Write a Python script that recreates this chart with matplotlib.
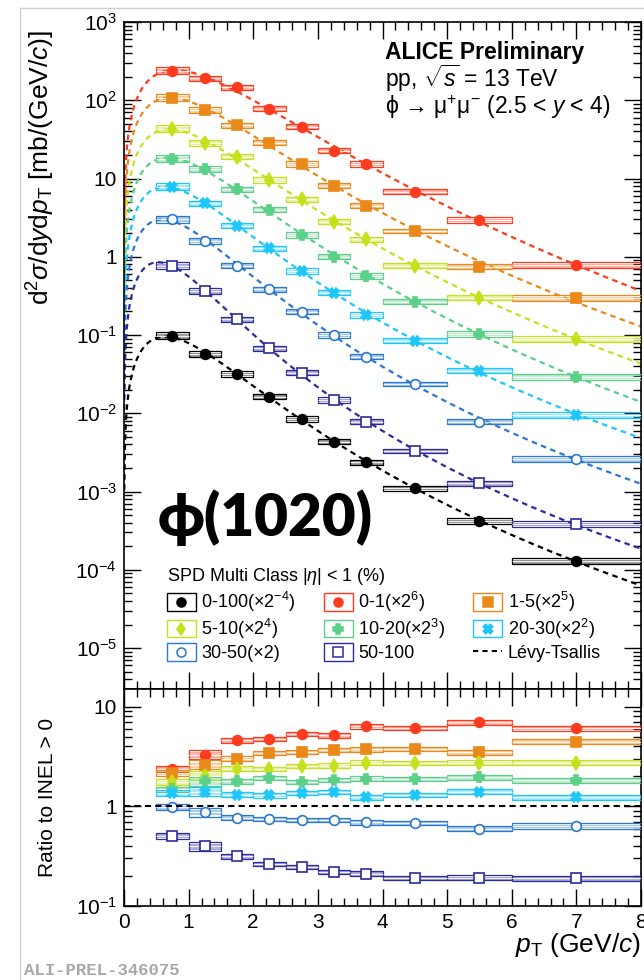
import numpy as np
import matplotlib
matplotlib.use("Agg")
import matplotlib.pyplot as plt
from matplotlib.patches import Rectangle
from matplotlib.lines import Line2D
from matplotlib.legend_handler import HandlerBase
from matplotlib.ticker import FixedLocator, LogLocator, MultipleLocator, NullFormatter, FuncFormatter

plt.rcParams["font.family"] = ["Liberation Sans", "DejaVu Sans"]
plt.rcParams["mathtext.fontset"] = "custom"
plt.rcParams["mathtext.rm"] = "Liberation Sans"
plt.rcParams["mathtext.it"] = "Liberation Sans:italic"
plt.rcParams["mathtext.bf"] = "Liberation Sans:bold"

# pT binning (GeV/c)
pt_edges = [0.5, 1.0, 1.5, 2.0, 2.5, 3.0, 3.5, 4.0, 5.0, 6.0, 8.0]

classes = ["0-100", "0-1", "1-5", "5-10", "10-20", "20-30", "30-50", "50-100"]
scale_labels = ["(×2$^{-4}$)", "(×2$^{6}$)", "(×2$^{5}$)", "(×2$^{4}$)",
                "(×2$^{3}$)", "(×2$^{2}$)", "(×2)", ""]
colors = ["#000000", "#ff3b1f", "#e8891a", "#c6e01e", "#5ccf88", "#1ec6fa", "#2a78d0", "#2b2b9c"]
markers = ["o", "o", "s", "d", "P", "X", "o", "s"]
filled = [True, True, True, True, True, True, False, False]

# d2sigma/dydpT (scaled as drawn), mb/(GeV/c)
spec_0_100 = [0.098, 0.057, 0.0318, 0.0163, 0.00845, 0.00433, 0.00236, 0.0011, 0.00042, 0.000129]
spec_0_1 = [237, 190, 146, 78, 46, 22.7, 15.3, 6.8, 2.95, 0.785]
spec_1_5 = [108, 75, 48, 28.7, 15.3, 8.1, 4.5, 2.13, 0.746, 0.294]
spec_5_10 = [43, 28.7, 19, 9.6, 5.4, 2.8, 1.67, 0.77, 0.30, 0.088]
spec_10_20 = [17.9, 13.2, 7.3, 4.0, 1.9, 1.0, 0.57, 0.267, 0.103, 0.0293]
spec_20_30 = [7.85, 4.8, 2.5, 1.28, 0.66, 0.347, 0.18, 0.085, 0.035, 0.0095]
spec_30_50 = [3.03, 1.6, 0.77, 0.384, 0.199, 0.1, 0.053, 0.0237, 0.0078, 0.00258]
spec_50_100 = [0.77, 0.365, 0.158, 0.0675, 0.033, 0.0148, 0.0078, 0.0033, 0.00127, 0.000385]
spectra = [spec_0_100, spec_0_1, spec_1_5, spec_5_10, spec_10_20, spec_20_30, spec_30_50, spec_50_100]

# ratio to INEL > 0 (unscaled)
ratio_0_1 = [2.38, 3.31, 4.6, 4.79, 5.37, 5.16, 6.41, 6.12, 6.97, 6.12]
ratio_1_5 = [2.17, 2.61, 3.0, 3.44, 3.52, 3.69, 3.74, 3.80, 3.49, 4.47]
ratio_5_10 = [1.75, 2.04, 2.40, 2.38, 2.53, 2.57, 2.73, 2.75, 2.73, 2.75]
ratio_10_20 = [1.48, 1.79, 1.79, 1.94, 1.75, 1.83, 1.89, 1.89, 1.96, 1.83]
ratio_20_30 = [1.36, 1.41, 1.31, 1.29, 1.36, 1.40, 1.23, 1.31, 1.41, 1.23]
ratio_30_50 = [0.985, 0.877, 0.77, 0.747, 0.736, 0.736, 0.69, 0.68, 0.598, 0.636]
ratio_50_100 = [0.505, 0.398, 0.316, 0.263, 0.247, 0.219, 0.211, 0.192, 0.192, 0.189]
ratios = [None, ratio_0_1, ratio_1_5, ratio_5_10, ratio_10_20, ratio_20_30, ratio_30_50, ratio_50_100]

# relative systematic uncertainties per bin
sys_spec = [0.11, 0.09, 0.08, 0.08, 0.08, 0.08, 0.08, 0.07, 0.08, 0.09]
sys_ratio = [0.07, 0.11, 0.06, 0.05, 0.05, 0.05, 0.06, 0.05, 0.06, 0.06]

PHI_MASS = 1.019


def levy(pt, n, T):
    mt = np.sqrt(pt ** 2 + PHI_MASS ** 2)
    return pt * (1 + (mt - PHI_MASS) / (n * T)) ** (-n)


def fit_levy(x, y):
    # small grid fit in log space, normalisation solved analytically
    T = np.linspace(0.08, 0.6, 131)[:, None, None]
    n = np.linspace(2.5, 40, 151)[None, :, None]
    ly = np.log(y)[None, None, :]
    ls = np.log(levy(x[None, None, :], n, T))
    lc = (ly - ls).mean(axis=2, keepdims=True)
    chi = ((ly - ls - lc) ** 2).sum(axis=2)
    i, j = np.unravel_index(np.argmin(chi), chi.shape)
    return np.exp(lc[i, j, 0]), n[0, j, 0], T[i, 0, 0]


def draw_points(ax, lo, hi, xc, vals, rel, color, marker, fill):
    for a, b, v, r in zip(lo, hi, vals, rel):
        ax.add_patch(Rectangle((a, v / (1 + r)), b - a, v * (1 + r) - v / (1 + r),
                               fill=False, ec=color, lw=0.9, zorder=3))
        ax.add_patch(Rectangle((a, v / (1 + r / 2)), b - a, v * (1 + r / 2) - v / (1 + r / 2),
                               fc=color, alpha=0.35, ec=color, lw=0.6, zorder=3))
        ax.hlines(v, a, b, color="white", lw=0.6, zorder=4)
    ax.plot(xc, vals, ls="none", marker=marker, ms=7, color=color,
            mfc=color if fill else "white", mec=color, mew=1.2, zorder=5)


class BoxMarkerHandler(HandlerBase):
    def create_artists(self, legend, orig, xd, yd, w, h, fontsize, trans):
        box = Rectangle((-xd, -yd), w, h, fill=False, ec=orig.get_color(), lw=1.0, transform=trans)
        mk = Line2D([-xd + w / 2], [-yd + h / 2], ls="none", marker=orig.get_marker(), ms=6.5,
                    mfc=orig.get_markerfacecolor(), mec=orig.get_markeredgecolor(),
                    mew=1.1, transform=trans)
        return [box, mk]


def main():
    lo = np.array(pt_edges[:-1])
    hi = np.array(pt_edges[1:])
    xc = (lo + hi) / 2

    fig = plt.figure(figsize=(6.44, 9.8), dpi=100)
    ax = fig.add_axes([124 / 644, 1 - 689 / 980, 517 / 644, 667 / 980])
    ax2 = fig.add_axes([124 / 644, 1 - 906 / 980, 517 / 644, 217 / 980], sharex=ax)

    pt_curve = np.linspace(0.004, 8.0, 600)
    handles = []
    for k in range(len(classes)):
        vals = np.array(spectra[k])
        c, n, T = fit_levy(xc, vals)
        ax.plot(pt_curve, c * levy(pt_curve, n, T), ls=(0, (2.5, 2.0)), lw=1.6,
                color=colors[k], zorder=2)
        draw_points(ax, lo, hi, xc, vals, sys_spec, colors[k], markers[k], filled[k])
        handles.append(Line2D([], [], color=colors[k], marker=markers[k],
                              mfc=colors[k] if filled[k] else "white", mec=colors[k]))
        if ratios[k] is not None:
            draw_points(ax2, lo, hi, xc, np.array(ratios[k]), sys_ratio, colors[k], markers[k], filled[k])

    ax2.axhline(1.0, color="black", ls=(0, (3, 2)), lw=1.5, zorder=6)

    # axes cosmetics (ROOT-like)
    for a in (ax, ax2):
        a.set_yscale("log")
        a.set_xlim(0, 8)
        a.xaxis.set_major_locator(MultipleLocator(1))
        a.xaxis.set_minor_locator(MultipleLocator(0.2))
        a.yaxis.set_minor_locator(LogLocator(base=10, subs=np.arange(2, 10), numticks=100))
        a.yaxis.set_minor_formatter(NullFormatter())
        a.tick_params(which="both", direction="in", top=True, right=True, width=1.0, labelsize=15)
        a.tick_params(which="major", length=12, pad=5)
        a.tick_params(which="minor", length=6)
        for s in a.spines.values():
            s.set_linewidth(1.2)

    def fmt(v, _):
        e = int(round(np.log10(v)))
        if e == 0:
            return "1"
        if e == 1:
            return "10"
        return "$10^{%d}$" % e

    ax.set_ylim(3.0e-6, 1e3)
    ax.yaxis.set_major_locator(FixedLocator(10.0 ** np.arange(-5, 4)))
    ax.yaxis.set_major_formatter(FuncFormatter(fmt))
    ax.tick_params(axis="x", labelbottom=False)

    ax2.set_ylim(0.1, 15.1)
    ax2.yaxis.set_major_locator(FixedLocator([0.1, 1, 10]))
    ax2.yaxis.set_major_formatter(FuncFormatter(fmt))

    ax.set_ylabel(r"d$^{2}\sigma$/d$y$d$p_{\mathrm{T}}$ [mb/(GeV/$c$)]", fontsize=19, loc="top")
    ax.yaxis.set_label_coords(-0.13, 0.988)
    ax2.set_ylabel("Ratio to INEL > 0", fontsize=15)
    ax2.yaxis.set_label_coords(-0.13, 0.5)
    ax2.set_xlabel(r"$p_{\mathrm{T}}$ (GeV/$c$)", fontsize=19, loc="right")
    ax2.xaxis.set_label_coords(1.0, -0.115)

    # header
    fig.text(385 / 644, 1 - 52 / 980, "ALICE Preliminary", fontsize=16.5, fontweight="bold", va="center")
    fig.text(385 / 644, 1 - 78 / 980, r"pp, $\sqrt{s}$ = 13 TeV", fontsize=16.5, va="center")
    fig.text(385 / 644, 1 - 107 / 980, "ϕ → μ$^{+}$μ$^{-}$ (2.5 < $y$ < 4)", fontsize=16.5, va="center")
    fig.text(158 / 644, 1 - 518 / 980, "ϕ(1020)", fontsize=42, fontweight="heavy",
             family=["Lato", "DejaVu Sans"], va="center")

    # legend, filled row by row
    lt = Line2D([], [], color="black", ls=(0, (2.5, 2.0)), lw=1.5)
    labels = [c + s for c, s in zip(classes, scale_labels)]
    order_h = handles + [lt]
    order_l = labels + ["Lévy-Tsallis"]
    ncol = 3
    idx = [r * ncol + c for c in range(ncol) for r in range(3)]
    hmap = {h: BoxMarkerHandler() for h in handles}
    ax.legend([order_h[i] for i in idx], [order_l[i] for i in idx], handler_map=hmap,
              ncol=ncol, loc="upper left", bbox_to_anchor=(167 / 644, 1 - 566 / 980),
              bbox_transform=fig.transFigure, frameon=False, fontsize=13,
              title=r"SPD Multi Class |$\eta$| < 1 (%)", title_fontsize=13, alignment="left",
              handlelength=1.6, handleheight=1.15, handletextpad=0.3, labelspacing=0.15,
              columnspacing=1.55, borderpad=0, borderaxespad=0)

    # page frame and figure id
    fig.add_artist(Line2D([20 / 644, 1], [1 - 8 / 980, 1 - 8 / 980], color="#d0d0d0", lw=1.0))
    fig.add_artist(Line2D([20 / 644, 20 / 644], [0, 1 - 8 / 980], color="#d0d0d0", lw=1.0))
    fig.text(24 / 644, 1 - 970 / 980, "ALI-PREL-346075", fontsize=12.5, fontweight="bold",
             family="Liberation Mono", color="#a8a8a8", va="center")

    fig.savefig("out.png", dpi=100)


if __name__ == "__main__":
    main()
